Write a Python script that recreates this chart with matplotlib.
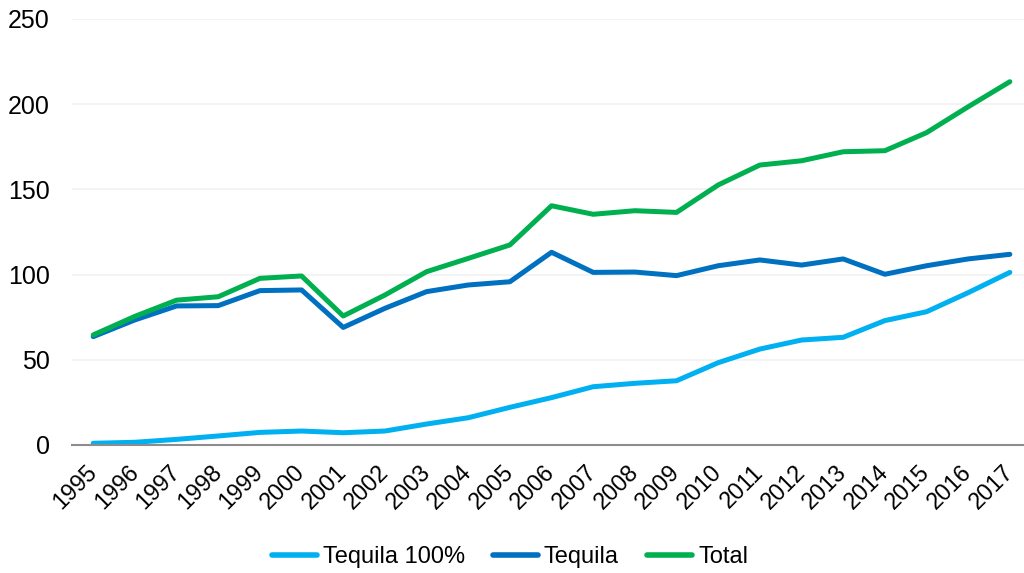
import matplotlib
matplotlib.use("Agg")
import matplotlib.pyplot as plt

years = list(range(1995, 2018))
tequila_100 = [1.0, 1.6, 3.3, 5.3, 7.4, 8.2, 7.2, 8.2, 12.3, 16.0, 22.1,
               27.8, 34.2, 36.2, 37.7, 48.3, 56.3, 61.6, 63.2, 73.0, 78.2, 89.4, 101.3]
tequila = [63.6, 73.4, 81.6, 81.8, 90.6, 91.0, 69.0, 80.2, 90.0, 93.9, 95.8,
           113.1, 101.3, 101.5, 99.4, 105.2, 108.6, 105.6, 109.2, 100.2, 105.2, 109.2, 111.9]
total = [64.6, 75.5, 85.0, 87.0, 97.8, 99.2, 75.7, 88.0, 101.7, 109.5, 117.4,
         140.4, 135.4, 137.5, 136.5, 152.6, 164.3, 166.8, 172.1, 172.7, 183.3, 198.5, 213.2]
series_names = ["Tequila 100%", "Tequila", "Total"]
series_colors = ["#00B0F0", "#0070C0", "#00B050"]
y_ticks = [0, 50, 100, 150, 200, 250]

plt.rcParams["font.family"] = ["Liberation Sans", "DejaVu Sans"]

fig = plt.figure(figsize=(10.24, 5.73), dpi=100)
ax = fig.add_axes([72 / 1024, 1 - 445 / 573, 1 - 72 / 1024, (445 - 19) / 573])

for vals, name, col in zip([tequila_100, tequila, total], series_names, series_colors):
    ax.plot(years, vals, color=col, lw=3.6, label=name,
            solid_capstyle="round", solid_joinstyle="round")

ax.set_ylim(0, 250)
ax.set_xlim(1994.49, 2017.34)
ax.set_yticks(y_ticks)
ax.set_xticks(years)
ax.set_xticklabels([str(y) for y in years], rotation=45, ha="right", va="center",
                   rotation_mode="anchor", fontsize=16.8)
ax.tick_params(axis="y", length=0, labelsize=18, pad=16)
ax.tick_params(axis="x", length=0, pad=17)
ax.grid(axis="y", color="#F2F2F2", lw=1.3)
ax.set_axisbelow(True)
for s in ["top", "right", "left"]:
    ax.spines[s].set_visible(False)
ax.spines["bottom"].set_color("#8C8C8C")
ax.spines["bottom"].set_linewidth(1.5)

leg = fig.legend(loc="center", bbox_to_anchor=(510 / 1024, 1 - 557 / 573), ncol=3,
                 frameon=False, fontsize=17, handlelength=1.9, handletextpad=0.25,
                 columnspacing=1.2)
for h in leg.get_lines():
    h.set_linewidth(4)
    h.set_solid_capstyle("round")

fig.savefig("out.png", dpi=100)
